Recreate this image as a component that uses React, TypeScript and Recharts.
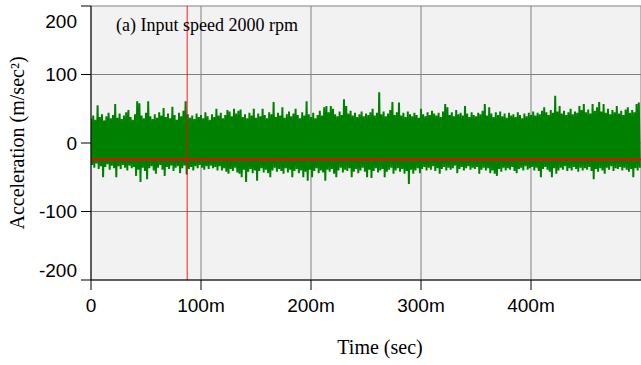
import { CartesianGrid, Label, Line, LineChart, XAxis, YAxis } from "recharts";

// peaks and troughs of the trace (m/sec^2)
const upper = [
  36, 40, 34, 55, 38, 42, 33, 39, 44, 36, 41, 57, 37, 43, 35, 40, 45, 48, 38, 34, 42, 61, 58, 40, 36,
  44, 61, 39, 35, 42, 37, 45, 40, 51, 38, 43, 36, 53, 41, 34, 44, 39, 47, 61, 42, 37, 40, 35, 43, 38,
  41, 36, 45, 39, 34, 42, 38, 50, 40, 44, 36, 41, 48, 46, 39, 50, 43, 47, 49, 38, 42, 36, 44, 40, 50,
  37, 43, 39, 50, 41, 36, 45, 42, 60, 38, 44, 40, 52, 37, 42, 46, 39, 43, 50, 41, 36, 45, 40, 61, 42,
  38, 44, 36, 41, 47, 40, 52, 54, 45, 54, 50, 42, 39, 46, 41, 64, 54, 43, 47, 40, 44, 38, 42, 46, 39,
  43, 41, 45, 50, 40, 44, 74, 42, 46, 39, 43, 48, 60, 41, 45, 59, 40, 44, 38, 46, 42, 39, 44, 41, 37,
  50, 42, 39, 45, 41, 47, 43, 40, 44, 38, 46, 57, 52, 41, 45, 39, 48, 42, 44, 40, 54, 43, 38, 45, 41,
  39, 44, 42, 47, 57, 40, 52, 43, 38, 45, 41, 46, 39, 43, 37, 44, 40, 42, 38, 45, 41, 36, 43, 39, 44,
  41, 46, 40, 44, 42, 47, 52, 45, 41, 48, 44, 69, 46, 54, 43, 47, 41, 45, 50, 42, 46, 44, 54, 48, 57,
  45, 49, 43, 57, 47, 52, 60, 46, 57, 44, 50, 42, 48, 45, 54, 43, 47, 41, 49, 52, 44, 48, 45, 57, 59,
];

const lower = [
  -32, -36, -30, -38, -34, -50, -35, -31, -39, -33, -37, -50, -34, -38, -32, -36, -40, -33, -37, -35, -48, -39, -57, -36, -41,
  -53, -37, -34, -40, -45, -36, -32, -39, -48, -35, -38, -33, -41, -36, -34, -44, -37, -33, -46, -38, -35, -40, -34, -37, -32,
  -36, -39, -34, -38, -33, -37, -35, -40, -34, -40, -37, -42, -45, -38, -41, -36, -43, -45, -50, -39, -57, -42, -38, -44, -40,
  -55, -41, -37, -43, -39, -44, -50, -40, -36, -42, -38, -41, -45, -37, -43, -39, -50, -41, -38, -44, -40, -50, -42, -55, -39,
  -50, -41, -37, -44, -40, -43, -55, -39, -42, -38, -45, -50, -40, -36, -43, -39, -41, -37, -50, -42, -38, -44, -40, -36, -42,
  -50, -39, -51, -41, -37, -43, -40, -38, -50, -42, -39, -36, -45, -40, -37, -42, -38, -45, -41, -60, -39, -45, -40, -37, -44,
  -38, -35, -40, -36, -39, -34, -41, -37, -45, -38, -35, -40, -36, -39, -37, -33, -44, -38, -35, -40, -37, -34, -39, -36, -38,
  -35, -45, -39, -36, -40, -37, -44, -40, -45, -48, -38, -42, -36, -40, -37, -39, -35, -41, -44, -38, -36, -40, -34, -39, -37,
  -35, -40, -36, -41, -50, -38, -35, -39, -42, -50, -37, -45, -40, -36, -39, -34, -41, -37, -40, -35, -38, -42, -36, -40, -37,
  -39, -35, -41, -53, -38, -42, -37, -40, -45, -36, -39, -34, -41, -37, -38, -35, -40, -36, -39, -42, -38, -50, -37, -40, -36,
];

const xTicks = [0, 0.1, 0.2, 0.3, 0.4];
const yTicks = [-200, -100, 0, 100, 200];
const cursorTime = 0.0875;
const levelValue = -24;

// one sample per millisecond, alternating peak / trough
const data = upper.flatMap((hi, i) => [
  { t: (2 * i) / 1000, v: hi },
  { t: (2 * i + 1) / 1000, v: lower[i] },
]);

// red cursors: horizontal level and vertical time marker
const levelData = [
  { t: 0, level: levelValue },
  { t: 0.5, level: levelValue },
];
const cursorData = [
  { t: cursorTime, cursor: -200 },
  { t: cursorTime, cursor: 200 },
];

const SANS = "'Liberation Sans', Arial, sans-serif";
const SERIF = "'Liberation Serif', 'Times New Roman', serif";

function YTick({ x, y, payload }: any) {
  const shift = payload.value === 200 ? 12 : payload.value === -200 ? -10 : 0;
  return (
    <text x={x} y={y + shift} textAnchor="end" dominantBaseline="central" fontFamily={SANS} fontSize={19} fill="#000">
      {payload.value}
    </text>
  );
}

function XTick({ x, y, payload }: any) {
  const label = payload.value === 0 ? "0" : `${Math.round(payload.value * 1000)}m`;
  return (
    <text x={x} y={y + 13.5} textAnchor="middle" dominantBaseline="central" fontFamily={SANS} fontSize={19} fill="#000">
      {label}
    </text>
  );
}

export default function App() {
  return (
    <div style={{ position: "absolute", left: 0, top: 0, width: 641, height: 365, background: "#fff" }}>
      <LineChart width={641} height={365} data={data} margin={{ top: 6, right: 0, left: 0, bottom: 45 }}>
        <CartesianGrid fill="#f2f2f2" stroke="#808080" strokeWidth={1} />
        <XAxis
          dataKey="t"
          type="number"
          domain={[0, 0.5]}
          ticks={xTicks}
          allowDataOverflow
          height={40}
          tickSize={10}
          stroke="#000"
          tick={<XTick />}
        >
          <Label
            content={() => (
              <text x={380} y={347} textAnchor="middle" dominantBaseline="central" fontFamily={SERIF} fontSize={20} fill="#000">
                Time (sec)
              </text>
            )}
          />
        </XAxis>
        <YAxis
          type="number"
          domain={[-200, 200]}
          ticks={yTicks}
          width={91}
          tickSize={10}
          tickMargin={4}
          stroke="#000"
          tick={<YTick />}
        >
          <Label
            content={() => (
              <text
                x={17}
                y={143}
                transform="rotate(-90 17 143)"
                textAnchor="middle"
                dominantBaseline="central"
                fontFamily={SERIF}
                fontSize={20}
                fill="#000"
              >
                Acceleration (m/sec²)
              </text>
            )}
          />
        </YAxis>
        <Line type="linear" dataKey="v" stroke="#008000" strokeWidth={2} dot={false} isAnimationActive={false} />
        <Line
          data={cursorData}
          type="linear"
          dataKey="cursor"
          stroke="#ff0000"
          strokeOpacity={0.6}
          strokeWidth={1.5}
          dot={false}
          isAnimationActive={false}
        />
        <Line
          data={levelData}
          type="linear"
          dataKey="level"
          stroke="#ff0000"
          strokeWidth={2}
          dot={false}
          isAnimationActive={false}
        />
      </LineChart>
      <div
        style={{
          position: "absolute",
          left: 207,
          top: 25,
          transform: "translate(-50%, -50%)",
          fontFamily: SERIF,
          fontSize: 18,
          whiteSpace: "nowrap",
          color: "#000",
        }}
      >
        (a) Input speed 2000 rpm
      </div>
    </div>
  );
}
